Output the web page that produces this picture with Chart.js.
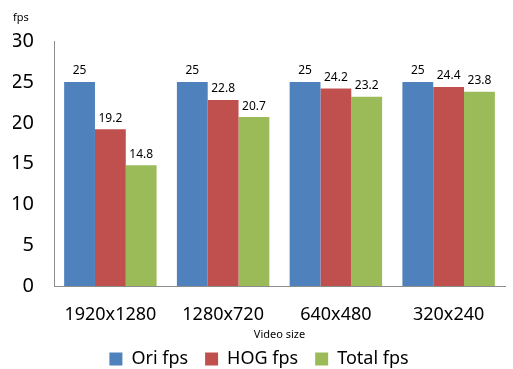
<!DOCTYPE html>
<html>
<head>
<meta charset="utf-8">
<script src="https://cdn.jsdelivr.net/npm/chart.js@4"></script>
<style>
  html, body { margin: 0; padding: 0; background: #fff; }
  #wrap { width: 513px; height: 369px; }
</style>
</head>
<body>
<div id="wrap"><canvas id="chart1"></canvas></div>
<script>
const categories = ['1920x1280', '1280x720', '640x480', '320x240'];
const oriFps = [25, 25, 25, 25];
const hogFps = [19.2, 22.8, 24.2, 24.4];
const totalFps = [14.8, 20.7, 23.2, 23.8];
const yTicks = [0, 5, 10, 15, 20, 25, 30];

const FONT = "'Noto Sans', 'DejaVu Sans', sans-serif";

// draws the value above each bar, and the x axis title under the tick labels
const valueLabels = {
    id: 'valueLabels',
    afterDatasetsDraw(chart) {
        const ctx = chart.ctx;
        ctx.save();
        ctx.font = '12px ' + FONT;
        ctx.fillStyle = '#000';
        ctx.textAlign = 'center';
        ctx.textBaseline = 'bottom';
        chart.data.datasets.forEach((ds, i) => {
            chart.getDatasetMeta(i).data.forEach((bar, j) => {
                ctx.fillText(String(ds.data[j]), bar.x, bar.y - 5);
            });
        });
        const area = chart.chartArea;
        ctx.font = '11px ' + FONT;
        ctx.textBaseline = 'middle';
        ctx.fillText('Video size', (area.left + area.right) / 2, area.bottom + 49);
        ctx.restore();
    }
};

document.addEventListener('DOMContentLoaded', () => {
    const ctx1 = document.getElementById('chart1').getContext('2d');
    new Chart(ctx1, {
        type: 'bar',
        data: {
            labels: categories,
            datasets: [
                { label: 'Ori fps', data: oriFps, backgroundColor: '#4F81BD' },
                { label: 'HOG fps', data: hogFps, backgroundColor: '#C0504D' },
                { label: 'Total fps', data: totalFps, backgroundColor: '#9BBB59' }
            ]
        },
        options: {
            responsive: true,
            maintainAspectRatio: false,
            animation: false,
            layout: { padding: { top: 8, right: 8, left: 13, bottom: -9 } },
            datasets: { bar: { categoryPercentage: 0.82, barPercentage: 1 } },
            scales: {
                x: {
                    afterFit: axis => { axis.height = 47; },
                    grid: { display: false, drawTicks: false },
                    border: { display: true, color: '#8c8c8c' },
                    ticks: { color: '#000', font: { family: FONT, size: 18 }, padding: 18 }
                },
                y: {
                    min: 0,
                    max: 30,
                    afterBuildTicks: axis => { axis.ticks = yTicks.map(v => ({ value: v })); },
                    afterFit: axis => { axis.width = 41; },
                    grid: { display: false, drawTicks: false },
                    border: { display: true, color: '#8c8c8c' },
                    ticks: { color: '#000', font: { family: FONT, size: 20 }, padding: 20 }
                }
            },
            plugins: {
                title: { display: true, text: 'fps', align: 'start', color: '#000', font: { family: FONT, size: 11, weight: 'normal' }, padding: { top: 3, bottom: 17 } },
                legend: {
                    position: 'bottom',
                    labels: { color: '#000', font: { family: FONT, size: 18 }, boxWidth: 13, boxHeight: 13, padding: 17 }
                },
                tooltip: { enabled: false }
            }
        },
        plugins: [valueLabels]
    });
});
</script>
</body>
</html>
